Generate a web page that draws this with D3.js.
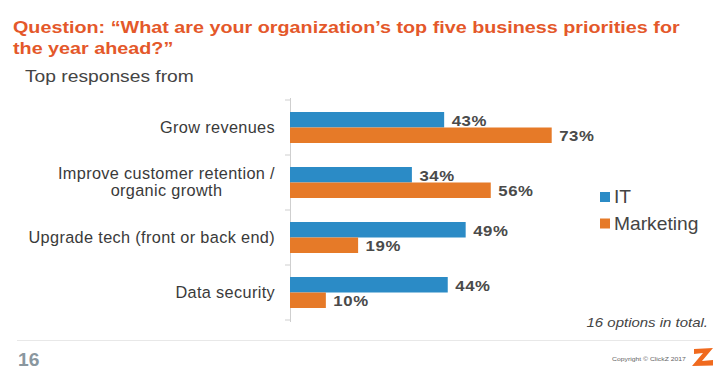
<!DOCTYPE html>
<html>
<head>
<meta charset="utf-8">
<script src="https://cdn.jsdelivr.net/npm/d3@7"></script>
<style>
	body { margin: 0; background: #fff; }
	svg text { font-family: "Liberation Sans", Arial, sans-serif; }
</style>
</head>
<body>
<div id="graphic"></div>
<script>
// chart data
const categories = ["Grow revenues", "Improve customer retention /\norganic growth", "Upgrade tech (front or back end)", "Data security"];
const series = ["IT", "Marketing"];
const itValues = [43, 34, 49, 44];
const marketingValues = [73, 56, 19, 10];
const colours = ["#2b8bc6", "#e67a28"];

const W = 722, H = 375;
const svg = d3.select('#graphic').append('svg').attr('width', W).attr('height', H);

// the source picture is a bit stretched sideways, so text gets a horizontal scale
function addText(parent, x, y, str, sx, anchor) {
	return parent.append('text')
		.attr('transform', `translate(${x},${y}) scale(${sx},1)`)
		.attr('text-anchor', anchor || 'start')
		.text(str);
}

// titles
addText(svg, 13, 33, 'Question: \u201cWhat are your organization\u2019s top five business priorities for', 1.22)
	.attr('fill', '#e4582a').attr('font-weight', 'bold').attr('font-size', 16.2);
addText(svg, 13, 53.5, 'the year ahead?\u201d', 1.22)
	.attr('fill', '#e4582a').attr('font-weight', 'bold').attr('font-size', 16.2);

addText(svg, 25, 81.7, 'Top responses from', 1.18)
	.attr('font-size', 16.3).attr('fill', '#444');

// scales
const x = d3.scaleLinear().domain([0, 100]).range([290, 648.5]);
const y = d3.scaleBand().domain(d3.range(categories.length)).range([100, 320]);
const barH = 15.5;

const data = categories.map((c, i) => ({ cat: c, vals: [itValues[i], marketingValues[i]] }));

// axis with ticks at band edges
svg.append('line').attr('x1', 290.5).attr('x2', 290.5).attr('y1', y.range()[0] - 2).attr('y2', y.range()[1] + 2)
	.attr('stroke', '#cfcfcf');
d3.range(categories.length + 1).forEach(function (i) {
	const yy = y.range()[0] + i * y.step();
	svg.append('line').attr('x1', 285).attr('x2', 290.5).attr('y1', yy).attr('y2', yy).attr('stroke', '#cfcfcf');
});

const groups = svg.selectAll('g.cat').data(data).join('g').attr('class', 'cat')
	.attr('transform', (d, i) => `translate(0,${y(i) + y.bandwidth() / 2})`);

groups.each(function (d) {
	const g = d3.select(this);
	d.vals.forEach(function (v, j) {
		const top = j === 0 ? -barH : 0;
		g.append('rect').attr('x', x(0)).attr('y', top)
			.attr('width', x(v) - x(0)).attr('height', barH)
			.attr('fill', colours[j]);
		addText(g, x(v) + 7.5, top + barH / 2 + 5.8, v + '%', 1.12)
			.attr('font-size', 15).attr('font-weight', 'bold').attr('fill', '#4a4a4a')
			.attr('letter-spacing', 0.5);
	});
	// category label: lines centred on each other, block right aligned at 275
	const lines = d.cat.split('\n');
	const texts = lines.map((l, k) => g.append('text')
		.attr('font-size', 16.3).attr('fill', '#3a3a3a').attr('letter-spacing', 0.35)
		.attr('y', 5 + (k - (lines.length - 1) / 2) * 16.7).text(l));
	const widths = texts.map((t) => t.node().getComputedTextLength());
	const maxW = d3.max(widths);
	texts.forEach((t, k) => t.attr('x', 275 - maxW / 2 - widths[k] / 2));
});

// legend
series.forEach(function (s, i) {
	svg.append('rect').attr('x', 600).attr('y', 192 + i * 26.5).attr('width', 10).attr('height', 10).attr('fill', colours[i]);
	addText(svg, 614, 203 + i * 26.5, s, 1.04).attr('font-size', 18.5).attr('fill', '#444');
});

addText(svg, 708, 327, '16 options in total.', 1.17, 'end')
	.attr('font-size', 12.8).attr('font-style', 'italic').attr('fill', '#444');

// footer
svg.append('line').attr('x1', 17).attr('x2', 710).attr('y1', 340.5).attr('y2', 340.5).attr('stroke', '#e8e8e8');
addText(svg, 18, 366, '16', 1.1).attr('font-size', 17.5).attr('font-weight', 'bold').attr('fill', '#8a979f');
addText(svg, 612, 360.5, 'Copyright \u00a9 ClickZ 2017', 1.1).attr('font-size', 6.2).attr('fill', '#666');
svg.append('path').attr('d', 'M694,349 L713,348 L702,361 L713,360 L713,365.5 L692,366 L703,353 L694,354 Z')
	.attr('fill', '#f06a1e');
</script>
</body>
</html>
